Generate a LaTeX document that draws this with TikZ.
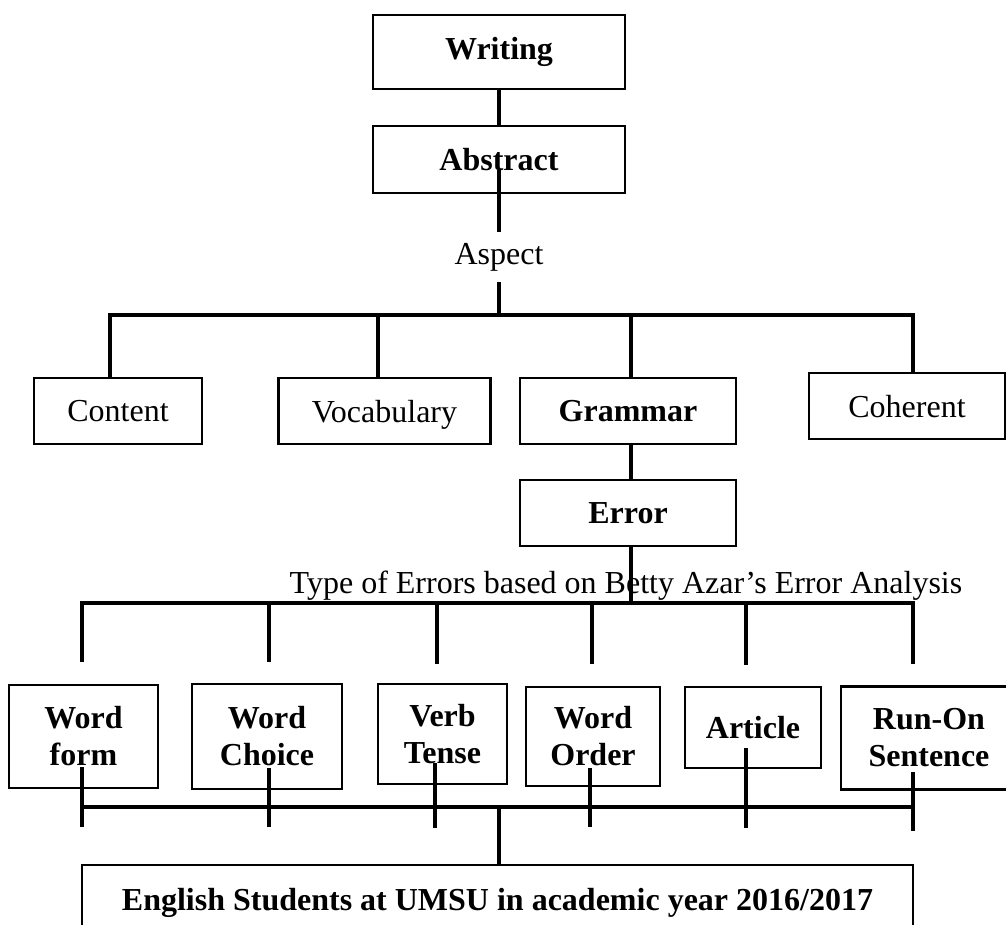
\documentclass[tikz,border=0pt]{standalone}
\usepackage{fontspec}
\setmainfont{Liberation Serif}
\newcommand\fsz{\fontsize{24}{27.75}\selectfont}
\tikzset{
  box/.style={draw, line width=1.7pt, inner sep=0pt, outer sep=0pt, align=center, font=\fsz},
  bbox/.style={box, font=\fsz\bfseries},
  nodepth/.style={text depth=0pt},
  sz/.style 2 args={minimum width={#1*0.75pt}, minimum height={#2*0.75pt}},
  conn/.style={line width=2.4pt, line join=miter},
  lbl/.style={inner sep=0pt, outer sep=0pt, font=\fsz},
}
\begin{document}
\begin{tikzpicture}[x=0.75pt, y=-0.75pt]
\useasboundingbox (0,0) rectangle (1006,924);
% top
\node[bbox, sz={252}{74}] (writing) at (499,52) {Writing};
\node[bbox, nodepth, sz={252}{67}] (abstract) at (499,159.5) {Abstract};
\node[lbl, minimum height={50*0.75pt}] (aspect) at (499,257) {Aspect};
% aspects
\node[box, nodepth, sz={168}{66}] (content) at (118,411) {Content};
\node[box, nodepth, sz={212}{66}] (vocab) at (384.5,411) {Vocabulary};
\node[bbox, nodepth, sz={216}{66}] (grammar) at (628,411) {Grammar};
\node[box, nodepth, sz={196}{66}] (coherent) at (907,406) {Coherent};
\node[bbox, nodepth, sz={216}{66}] (error) at (628,513) {Error};
\node[lbl, anchor=base] (types) at (626,593) {Type of Errors based on Betty Azar’s Error Analysis};
% error types
\node[bbox, sz={149}{103}] (wform) at (83.5,736.5) {Word\\form};
\node[bbox, sz={150}{105}] (wchoice) at (267,736.5) {Word\\Choice};
\node[bbox, sz={129}{100}] (vtense) at (442.5,734) {Verb\\Tense};
\node[bbox, sz={134}{99}] (worder) at (593,736.5) {Word\\Order};
\node[bbox, nodepth, sz={136}{81}] (article) at (753,727.5) {Article};
\node[bbox, sz={176}{103}] (runon) at (929,738) {Run-On\\Sentence};
\node[bbox, sz={831}{75}] (students) at (497.5,902.5) {English Students at UMSU in academic year 2016/2017};

% connectors top
\draw[conn] (writing.south) -- (abstract.north);
\coordinate (absin) at (499,170);
\draw[conn] (absin) -- (aspect.north);
\coordinate (hub1) at (499,315);
\draw[conn] (aspect.south) -- (hub1);
\coordinate (d1) at (110,315);
\coordinate (d2) at (378,315);
\coordinate (d3) at (631,315);
\coordinate (d4) at (913,315);
\draw[conn] (d1 |- content.north) -- (d1) -- (d4) -- (d4 |- coherent.north);
\draw[conn] (d2) -- (d2 |- vocab.north);
\draw[conn] (d3) -- (d3 |- grammar.north);
\draw[conn] (d3 |- grammar.south) -- (d3 |- error.north);
\coordinate (hub2) at (631,603);
\draw[conn] (d3 |- error.south) -- (hub2);

% lower bar
\coordinate (e1) at (82,603);
\coordinate (e2) at (269,603);
\coordinate (e3) at (437,603);
\coordinate (e4) at (592,603);
\coordinate (e5) at (746,603);
\coordinate (e6) at (913,603);
\coordinate (e1b) at (82,662);
\coordinate (e2b) at (269,662);
\coordinate (e3b) at (437,664);
\coordinate (e4b) at (592,664);
\coordinate (e5b) at (746,665);
\coordinate (e6b) at (913,664);
\draw[conn] (e1b) -- (e1) -- (e6) -- (e6b);
\draw[conn] (e2) -- (e2b);
\draw[conn] (e3) -- (e3b);
\draw[conn] (e4) -- (e4b);
\draw[conn] (e5) -- (e5b);

% through-lines and bottom bar
\coordinate (f1) at (82,767);
\coordinate (f2) at (269,768);
\coordinate (f3) at (435,763);
\coordinate (f4) at (590,768);
\coordinate (f5) at (746,748);
\coordinate (f6) at (913,772);
\coordinate (g1) at (82,827);
\coordinate (g2) at (269,827);
\coordinate (g3) at (435,828);
\coordinate (g4) at (590,827);
\coordinate (g5) at (746,828);
\coordinate (g6) at (913,831);
\foreach \i in {1,...,6} { \draw[conn] (f\i) -- (g\i); }
\coordinate (h1) at (82,807);
\coordinate (h6) at (913,807);
\draw[conn] (h1) -- (h6);
\coordinate (hub3) at (499,807);
\draw[conn] (hub3) -- (students.north -| hub3);
\end{tikzpicture}
\end{document}
